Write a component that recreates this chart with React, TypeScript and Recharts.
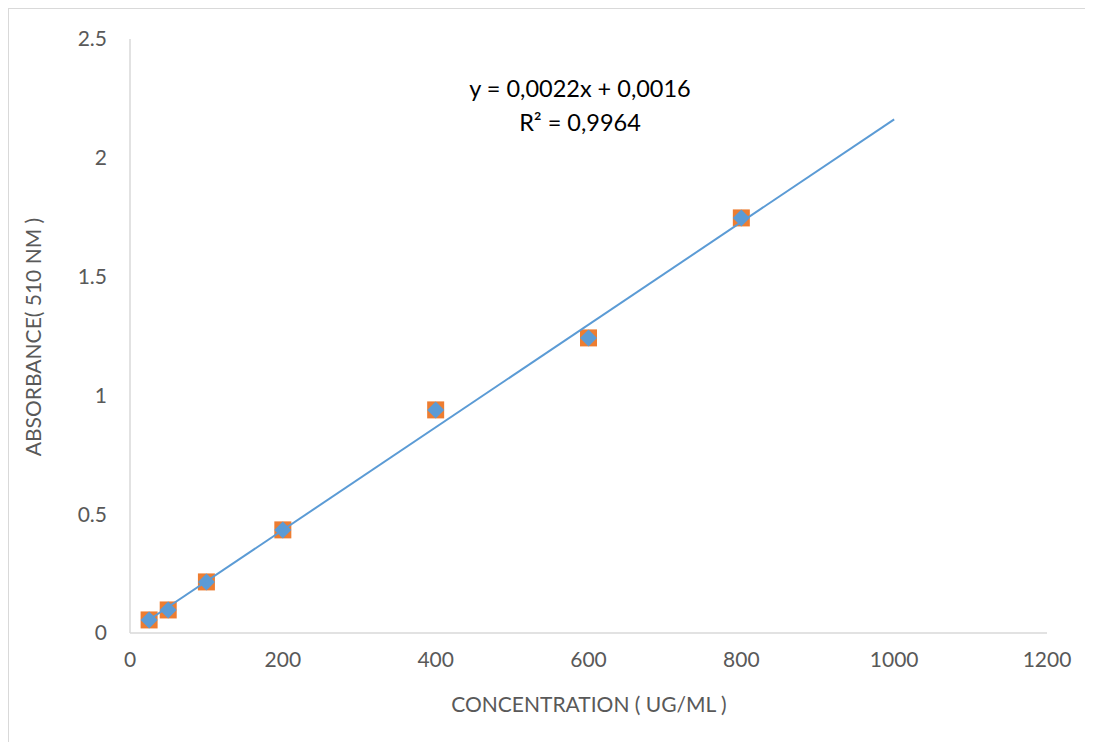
import React from 'react';
import { ScatterChart, Scatter, XAxis, YAxis, Customized } from 'recharts';

// concentration (ug/ml) of each standard
const concentrations = [25, 50, 100, 200, 400, 600, 800];
// absorbance at 510 nm, two overlaid series
const absorbanceOrange = [0.055, 0.097, 0.215, 0.434, 0.939, 1.242, 1.747];
const absorbanceBlue = [0.055, 0.097, 0.215, 0.434, 0.939, 1.242, 1.747];

const xTicks = [0, 200, 400, 600, 800, 1000, 1200];
const yTicks = [0, 0.5, 1, 1.5, 2, 2.5];

// linear trendline, forecast forward to 1000
const trendSlope = 0.00216;
const trendIntercept = 0.0016;
const trendR2 = 0.9964;
const trendRange = [25, 1000];

const orangeData = concentrations.map((x, i) => ({ x, y: absorbanceOrange[i] }));
const blueData = concentrations.map((x, i) => ({ x, y: absorbanceBlue[i] }));
const trendData = trendRange.map((x) => ({ x, y: trendSlope * x + trendIntercept }));

const fmt = (v: number) => v.toFixed(4).replace('.', ',');

const FONT = 'Lato, "Open Sans", sans-serif';
const GRAY = '#595959';

const SquareMarker = (props: any) => {
  const { cx, cy } = props;
  const s = 17;
  return <rect x={cx - s / 2} y={cy - s / 2} width={s} height={s} fill="#ED7D31" />;
};

const DiamondMarker = (props: any) => {
  const { cx, cy } = props;
  const r = 8.5;
  return (
    <polygon
      points={`${cx},${cy - r} ${cx + r},${cy} ${cx},${cy + r} ${cx - r},${cy}`}
      fill="#5B9BD5"
    />
  );
};

const NoMarker = () => null;

const Annotations = () => (
  <g fontFamily={FONT}>
    <text x={571} y={79} textAnchor="middle" dominantBaseline="central" fontSize={23.5} fill="#000">
      {`y = ${fmt(trendSlope)}x + ${fmt(trendIntercept)}`}
    </text>
    <text x={571} y={113} textAnchor="middle" dominantBaseline="central" fontSize={23.5} fill="#000">
      {`R² = ${fmt(trendR2)}`}
    </text>
    <text x={580} y={694} textAnchor="middle" dominantBaseline="central" fontSize={21} fill={GRAY}>
      CONCENTRATION ( UG/ML )
    </text>
    <text
      x={23}
      y={328}
      textAnchor="middle"
      dominantBaseline="central"
      fontSize={21}
      fill={GRAY}
      transform="rotate(-90 23 328)"
    >
      ABSORBANCE( 510 NM )
    </text>
  </g>
);

export default function App() {
  return (
    <div
      style={{
        width: 1085,
        height: 733,
        borderLeft: '1px solid #d9d9d9',
        borderTop: '1px solid #d9d9d9',
        overflow: 'hidden',
        background: '#fff',
      }}
    >
      <ScatterChart width={1084} height={733} margin={{ top: 30, right: 46, bottom: 49, left: 61 }}>
        <XAxis
          type="number"
          dataKey="x"
          domain={[0, 1200]}
          ticks={xTicks}
          height={60}
          axisLine={{ stroke: '#d9d9d9', strokeWidth: 1.5 }}
          tickLine={false}
          tickSize={0}
          tickMargin={19}
          tick={{ fill: GRAY, fontSize: 21, fontFamily: FONT }}
        />
        <YAxis
          type="number"
          dataKey="y"
          domain={[0, 2.5]}
          ticks={yTicks}
          width={60}
          axisLine={{ stroke: '#d9d9d9', strokeWidth: 1.5 }}
          tickLine={false}
          tickSize={0}
          tickMargin={23}
          tick={{ fill: GRAY, fontSize: 21, fontFamily: FONT }}
        />
        <Scatter data={orangeData} shape={SquareMarker} isAnimationActive={false} />
        <Scatter data={blueData} shape={DiamondMarker} isAnimationActive={false} />
        <Scatter
          data={trendData}
          line={{ stroke: '#5B9BD5', strokeWidth: 2 }}
          lineType="joint"
          shape={NoMarker}
          isAnimationActive={false}
        />
        <Customized component={Annotations} />
      </ScatterChart>
    </div>
  );
}
